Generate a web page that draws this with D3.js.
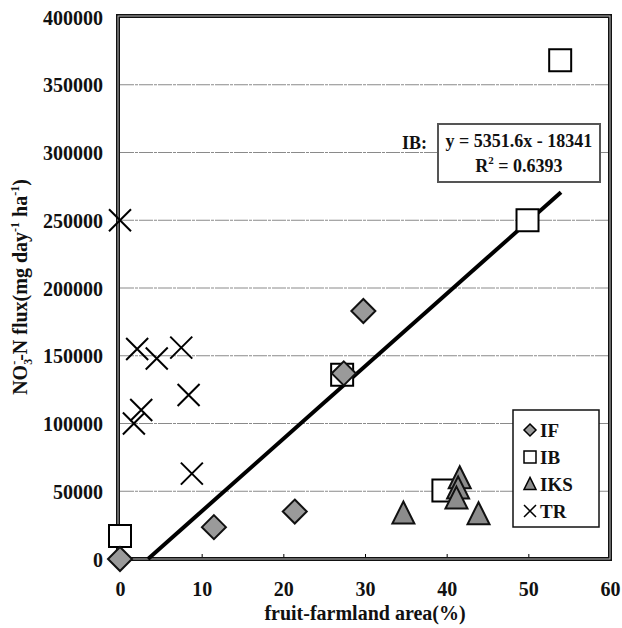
<!DOCTYPE html>
<html>
<head>
<meta charset="utf-8">
<script src="https://cdn.jsdelivr.net/npm/d3@7"></script>
<style>
  body { margin: 0; background: #fff; }
  text { font-family: "Liberation Serif", "DejaVu Serif", serif; font-weight: bold; fill: #111; }
</style>
</head>
<body>
<svg id="chart" width="622" height="628"></svg>
<script>
// data: fruit-farmland area (%) vs NO3-N flux
var ifX  = [0, 11.5, 21.4, 27.4, 29.8];
var ifY  = [0, 23500, 35000, 137000, 183000];
var ibX  = [0, 27.2, 39.6, 49.9, 53.9];
var ibY  = [17000, 136000, 50500, 250000, 368000];
var iksX = [34.7, 41.6, 41.4, 41.2, 43.9];
var iksY = [33500, 59500, 52000, 44500, 33000];
var trX  = [0, 2.1, 4.5, 7.5, 2.6, 1.7, 8.4, 8.8];
var trY  = [250000, 155000, 148000, 156000, 110000, 100000, 121000, 63000];
var xTicks = [0, 10, 20, 30, 40, 50, 60];
var yTicks = [0, 50000, 100000, 150000, 200000, 250000, 300000, 350000, 400000];
var slope = 5351.6, intercept = -18341;
var seriesNames = ["IF", "IB", "IKS", "TR"];

var margin = {top: 17, right: 12, bottom: 69, left: 120};
var svg = d3.select("#chart");
var W = 622 - margin.left - margin.right,
    H = 628 - margin.top - margin.bottom;
var g = svg.append("g").attr("transform", "translate(" + margin.left + "," + margin.top + ")");

var x = d3.scaleLinear().domain([0, 60]).range([0, W]);
var y = d3.scaleLinear().domain([0, 400000]).range([H, 0]);

// gridlines
g.append("g").selectAll("line")
  .data(yTicks.filter(function(d) { return d > 0 && d < 400000; }))
  .enter().append("line")
  .attr("x1", 0).attr("x2", W)
  .attr("y1", y).attr("y2", y)
  .attr("stroke", "#8a8a8a").attr("stroke-width", 1)
  .attr("stroke-dasharray", "14,1,3,1");

// axes (labels only, ticks short)
var yAxis = g.append("g")
  .call(d3.axisLeft(y).tickValues(yTicks).tickSize(3).tickPadding(14).tickFormat(d3.format("d")));
yAxis.select(".domain").remove();
yAxis.selectAll("text").attr("font-size", 20).attr("dy", "0.35em");

var xAxis = g.append("g").attr("transform", "translate(0," + H + ")")
  .call(d3.axisBottom(x).tickValues(xTicks).tickSizeInner(-5).tickSizeOuter(0).tickPadding(23));
xAxis.select(".domain").remove();
xAxis.selectAll("text").attr("font-size", 20);

// frame
g.append("rect").attr("x", -2).attr("y", -1).attr("width", W + 2).attr("height", H + 1)
  .attr("fill", "none").attr("stroke", "#111").attr("stroke-width", 4);
g.append("rect").attr("x", -2).attr("y", -1).attr("width", W + 2).attr("height", H + 1)
  .attr("fill", "none").attr("stroke", "#bbb").attr("stroke-width", 1);

// regression line for IB
var x0 = -intercept / slope, x1 = 54;
g.append("line")
  .attr("x1", x(x0)).attr("y1", y(slope * x0 + intercept))
  .attr("x2", x(x1)).attr("y2", y(slope * x1 + intercept))
  .attr("stroke", "#000").attr("stroke-width", 4);

// marker shapes
function diamond(s) { return "M0," + (-s) + "L" + s + ",0L0," + s + "L" + (-s) + ",0Z"; }
function square(s) { return "M" + (-s) + "," + (-s) + "h" + (2 * s) + "v" + (2 * s) + "h" + (-2 * s) + "Z"; }
function triangle(s) { return "M0," + (-s * 1.1) + "L" + s + "," + (s * 0.9) + "L" + (-s) + "," + (s * 0.9) + "Z"; }
function cross(s) { return "M" + (-s) + "," + (-s) + "L" + s + "," + s + "M" + s + "," + (-s) + "L" + (-s) + "," + s; }

function pts(xs, ys) { return xs.map(function(v, i) { return [v, ys[i]]; }); }

var marks = g.append("g");
marks.selectAll(".tr").data(pts(trX, trY)).enter().append("path")
  .attr("transform", function(d) { return "translate(" + x(d[0]) + "," + y(d[1]) + ")"; })
  .attr("d", cross(11)).attr("stroke", "#000").attr("stroke-width", 2).attr("fill", "none");
marks.selectAll(".ib").data(pts(ibX, ibY)).enter().append("path")
  .attr("transform", function(d) { return "translate(" + x(d[0]) + "," + y(d[1]) + ")"; })
  .attr("d", square(11)).attr("stroke", "#000").attr("stroke-width", 2).attr("fill", "#fff");
marks.selectAll(".iks").data(pts(iksX, iksY)).enter().append("path")
  .attr("transform", function(d) { return "translate(" + x(d[0]) + "," + y(d[1]) + ")"; })
  .attr("d", triangle(11)).attr("stroke", "#111").attr("stroke-width", 2).attr("fill", "#8c8c8c");
marks.selectAll(".if").data(pts(ifX, ifY)).enter().append("path")
  .attr("transform", function(d) { return "translate(" + x(d[0]) + "," + y(d[1]) + ")"; })
  .attr("d", diamond(12)).attr("stroke", "#111").attr("stroke-width", 2).attr("fill", "#9a9a9a");

// equation box
g.append("text").attr("x", 282).attr("y", 132).attr("font-size", 18).text("IB:");
g.append("rect").attr("x", 318).attr("y", 107).attr("width", 162).attr("height", 58)
  .attr("fill", "#fff").attr("stroke", "#555").attr("stroke-width", 2);
g.append("text").attr("x", 399).attr("y", 130).attr("text-anchor", "middle").attr("font-size", 18)
  .text("y = 5351.6x - 18341");
var r2 = g.append("text").attr("x", 399).attr("y", 155).attr("text-anchor", "middle").attr("font-size", 18);
r2.append("tspan").text("R");
r2.append("tspan").attr("font-size", 11).attr("dy", -8).text("2");
r2.append("tspan").attr("dy", 8).text(" = 0.6393");

// legend
var lg = g.append("g").attr("transform", "translate(393,393)");
lg.append("rect").attr("width", 86).attr("height", 117)
  .attr("fill", "#fff").attr("stroke", "#111").attr("stroke-width", 1.5);
var legShapes = [diamond(6), square(6), triangle(6), cross(6)];
var legFill = ["#9a9a9a", "#fff", "#8c8c8c", "none"];
seriesNames.forEach(function(name, i) {
  var row = lg.append("g").attr("transform", "translate(17," + (20 + i * 27) + ")");
  row.append("path").attr("d", legShapes[i]).attr("fill", legFill[i])
    .attr("stroke", "#000").attr("stroke-width", 1.5);
  row.append("text").attr("x", 10).attr("y", 7).attr("font-size", 19).text(name);
});

// axis titles
svg.append("text").attr("x", margin.left + W / 2).attr("y", 620)
  .attr("text-anchor", "middle").attr("font-size", 20).text("fruit-farmland area(%)");

var yt = svg.append("text").attr("transform", "translate(27,287) rotate(-90)")
  .attr("text-anchor", "middle").attr("font-size", 20);
yt.append("tspan").text("NO");
yt.append("tspan").attr("font-size", 12).attr("dy", 5).text("3");
yt.append("tspan").attr("font-size", 12).attr("dx", -6).attr("dy", -14).text("-");
yt.append("tspan").attr("dy", 9).text("-N flux(mg day");
yt.append("tspan").attr("font-size", 12).attr("dy", -8).text("-1");
yt.append("tspan").attr("dy", 8).text(" ha");
yt.append("tspan").attr("font-size", 12).attr("dy", -8).text("-1");
yt.append("tspan").attr("dy", 8).text(")");
</script>
</body>
</html>
